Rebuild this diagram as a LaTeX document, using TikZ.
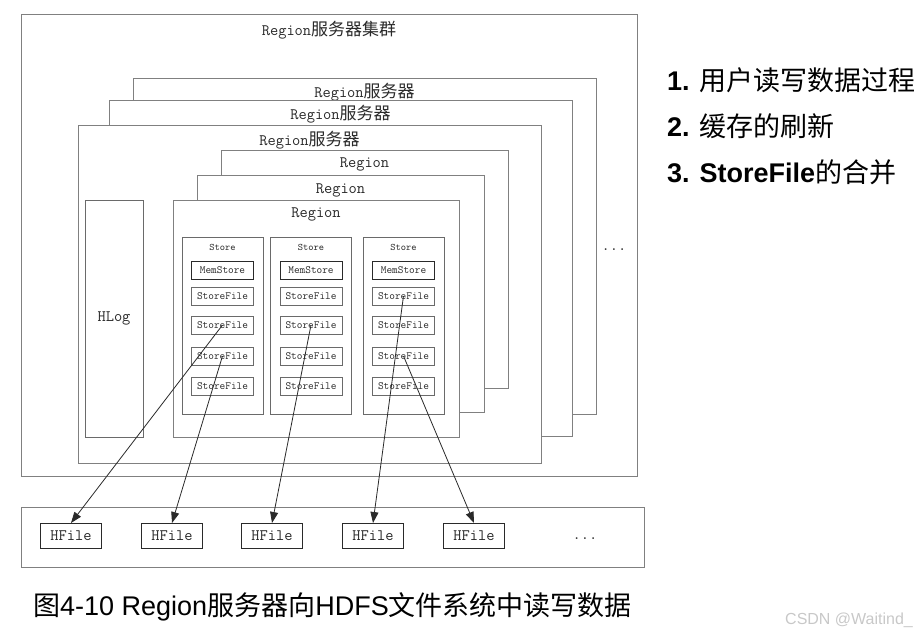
\documentclass[tikz,border=0pt]{standalone}
\usepackage{fontspec}
\setmainfont{Liberation Sans}
\newfontfamily\cjk{Noto Sans CJK SC}
\usetikzlibrary{arrows.meta}

\definecolor{framegray}{HTML}{808080}
\definecolor{filegray}{HTML}{6A6A6A}
\definecolor{inkgray}{HTML}{2A2A2A}
\definecolor{markgray}{HTML}{C8C8C8}

\newcommand{\zh}[1]{{\cjk #1}}
\newcommand{\zhbox}[1]{{\cjk\fontsize{17}{17}\selectfont #1}}

\tikzset{
  frame/.style={draw=framegray, fill=white, line width=1pt, inner sep=0pt},
  boxlabel/.style={inner sep=0pt, text=inkgray, font=\ttfamily\fontsize{16}{16}\selectfont},
  smalllbl/.style={inner sep=0pt, text=inkgray, font=\ttfamily\fontsize{10}{10}\selectfont},
  filebox/.style={draw=filegray, fill=white, line width=1pt, inner sep=0pt,
    minimum width=62pt, minimum height=18pt, text=inkgray,
    font=\ttfamily\fontsize{11}{11}\selectfont},
  hfilebox/.style={draw=inkgray, fill=white, line width=1pt, inner sep=0pt,
    minimum width=61pt, minimum height=25pt, text=inkgray,
    font=\ttfamily\fontsize{16}{16}\selectfont},
  link/.style={draw=inkgray, line width=0.8pt, -{Triangle[length=11pt,width=8pt]}},
  listtxt/.style={anchor=base west, inner sep=0pt, font=\fontsize{27}{27}\selectfont},
}

\begin{document}
\begin{tikzpicture}[x=1pt, y=-1pt]
    \useasboundingbox (0,0) rectangle (920,634);

    % region server cluster
    \node[frame, minimum width=616pt, minimum height=461pt] (cluster) at (329,245.5) {};
    \node[boxlabel] (clusterlbl) at ([yshift=-16pt]cluster.north) {Region\zhbox{服务器集群}};
    \node[boxlabel, anchor=base] (moresrv) at (614,250) {...};

    % three region servers, back to front
    \node[frame, minimum width=463pt, minimum height=336pt] (srv1) at (364.5,246) {};
    \node[boxlabel] (srv1lbl) at ([yshift=-15pt]srv1.north) {Region\zhbox{服务器}};
    \node[frame, minimum width=463pt, minimum height=336pt] (srv2) at (340.5,268) {};
    \node[boxlabel] (srv2lbl) at ([yshift=-15pt]srv2.north) {Region\zhbox{服务器}};
    \node[frame, minimum width=463pt, minimum height=338pt] (srv3) at (309.5,294) {};
    \node[boxlabel] (srv3lbl) at ([yshift=-16pt]srv3.north) {Region\zhbox{服务器}};

    \node[frame, draw=filegray, minimum width=58pt, minimum height=237pt,
          font=\ttfamily\fontsize{16}{16}\selectfont, text=inkgray] (hlog) at (114,318.5) {HLog};

    % regions
    \node[frame, minimum width=287pt, minimum height=238pt] (reg1) at (364.5,269) {};
    \node[boxlabel] (reg1lbl) at ([yshift=-15pt]reg1.north) {Region};
    \node[frame, minimum width=287pt, minimum height=237pt] (reg2) at (340.5,293.5) {};
    \node[boxlabel] (reg2lbl) at ([yshift=-16pt]reg2.north) {Region};
    \node[frame, minimum width=286pt, minimum height=237pt] (reg3) at (316,318.5) {};
    \node[boxlabel] (reg3lbl) at ([yshift=-15pt]reg3.north) {Region};

    % stores
    \foreach \i/\cx in {1/222.5, 2/311, 3/403.5} {
        \node[frame, draw=filegray, minimum width=81pt, minimum height=177pt] (store\i) at (\cx,325.5) {};
        \node[smalllbl] (store\i lbl) at ([yshift=-11pt]store\i.north) {Store};
        \node[filebox, draw=inkgray] (mem\i) at (\cx,270) {MemStore};
        \foreach \j/\cy in {1/296, 2/325, 3/356, 4/386}
            \node[filebox] (sf\i\j) at (\cx,\cy) {StoreFile};
    }

    % HDFS
    \node[frame, minimum width=623pt, minimum height=60pt] (hdfs) at (332.5,537) {};
    \foreach \k/\hx in {1/71, 2/172, 3/272, 4/373, 5/474}
        \node[hfilebox] (hf\k) at (\hx,536) {HFile};
    \node[boxlabel, anchor=base] (morehf) at (585,539) {...};

    \draw[link] (sf12.center) -- (hf1.north);
    \draw[link] (sf13.center) -- (hf2.north);
    \draw[link] (sf22.center) -- (hf3.north);
    \draw[link] (sf31.center) -- (hf4.north);
    \draw[link] (sf33.center) -- (hf5.north);

    % list on the right
    \node[listtxt] (item1) at (667,90) {\textbf{1.} \zh{用户读写数据过程}};
    \node[listtxt] (item2) at (667,136) {\textbf{2.} \zh{缓存的刷新}};
    \node[listtxt] (item3) at (667,182) {\textbf{3. StoreFile}\zh{的合并}};

    \node[anchor=base west, inner sep=0pt, font=\fontsize{27}{27}\selectfont] (caption) at (33,615)
        {\zh{图}4-10 Region\zh{服务器向}HDFS\zh{文件系统中读写数据}};
    \node[anchor=base west, inner sep=0pt, text=markgray, font=\fontsize{16}{16}\selectfont] (mark) at (785,624)
        {CSDN @Waitind\_};
\end{tikzpicture}
\end{document}
